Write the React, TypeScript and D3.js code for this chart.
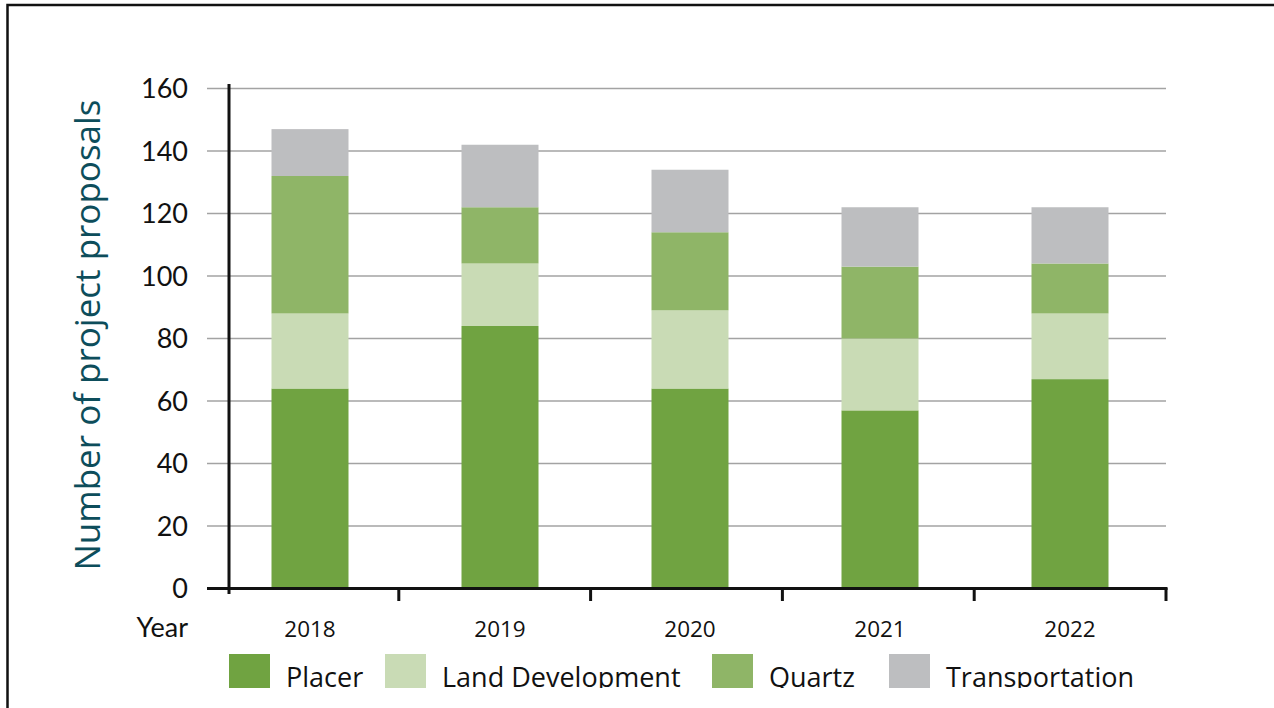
import React from "react";
import * as d3 from "d3";

const years = ["2018", "2019", "2020", "2021", "2022"];
const placer = [64, 84, 64, 57, 67];
const landDevelopment = [24, 20, 25, 23, 21];
const quartz = [44, 18, 25, 23, 16];
const transportation = [15, 20, 20, 19, 18];
const seriesNames = ["Placer", "Land Development", "Quartz", "Transportation"];
const seriesColors = ["#70A341", "#C9DBB5", "#8FB567", "#BDBEC0"];
const yTicks = [0, 20, 40, 60, 80, 100, 120, 140, 160];

const W = 1274;
const H = 708;
const FONT = "Lato, 'Open Sans', sans-serif";
const FONT2 = "'Open Sans', Lato, sans-serif";

export default function App() {
  const y = d3.scaleLinear().domain([0, 160]).range([588.5, 88.5]);
  const xAxis = d3.scaleBand<string>().domain(years).range([207, 1166]);
  const xBar = d3.scalePoint<string>().domain(years).range([215, 1165]).padding(0.5);
  const barW = 77;

  const rows = years.map((yr, i) => ({
    year: yr,
    Placer: placer[i],
    "Land Development": landDevelopment[i],
    Quartz: quartz[i],
    Transportation: transportation[i],
  }));
  const stacked = d3.stack<any>().keys(seriesNames)(rows);

  const legendX = [229, 385, 712, 889];

  return (
    <svg
      width={W}
      height={H}
      style={{ position: "absolute", left: 0, top: 0, background: "#fff" }}
      fontFamily={FONT}
    >
      <defs>
        <clipPath id="clip">
          <rect x={0} y={0} width={W} height={688} />
        </clipPath>
      </defs>
      <rect x={0} y={0} width={W} height={H} fill="#fff" />
      <rect x={7.5} y={5} width={1300} height={760} fill="none" stroke="#111" strokeWidth={2.5} />
      <g clipPath="url(#clip)">
        {yTicks.map((t) => (
          <g key={t}>
            <line x1={207} x2={1166} y1={y(t)} y2={y(t)} stroke="#a3a3a3" strokeWidth={1.5} />
            <text x={188} y={y(t)} dy="0.36em" textAnchor="end" fontSize={27} fill="#111">
              {t}
            </text>
          </g>
        ))}
        {stacked.map((s, si) =>
          s.map((d, i) => (
            <rect
              key={si + "-" + i}
              x={(xBar(years[i]) as number) - barW / 2}
              y={y(d[1])}
              width={barW}
              height={y(d[0]) - y(d[1])}
              fill={seriesColors[si]}
            />
          ))
        )}
        <line x1={207} x2={1167.5} y1={588.5} y2={588.5} stroke="#111" strokeWidth={3} />
        <line x1={229} x2={229} y1={84} y2={594} stroke="#111" strokeWidth={3} />
        {years.map((yr) => (
          <line
            key={yr}
            x1={(xAxis(yr) as number) + xAxis.bandwidth()}
            x2={(xAxis(yr) as number) + xAxis.bandwidth()}
            y1={588}
            y2={601}
            stroke="#111"
            strokeWidth={3}
          />
        ))}
        {years.map((yr) => (
          <text key={yr} x={xBar(yr)} y={637} textAnchor="middle" fontSize={22.5} fill="#111" fontFamily={FONT2}>
            {yr}
          </text>
        ))}
        <text x={188} y={637} textAnchor="end" fontSize={27} fill="#111">
          Year
        </text>
        <text
          transform={`translate(100,335) rotate(-90)`}
          textAnchor="middle"
          fontSize={35}
          fill="#0D4D5B"
          fontFamily={FONT2}
        >
          Number of project proposals
        </text>
        {seriesNames.map((n, i) => (
          <g key={n}>
            <rect x={legendX[i]} y={654} width={41} height={40} fill={seriesColors[i]} />
            <text x={legendX[i] + 57} y={687} fontSize={27} fill="#111" fontFamily={FONT2}>
              {n}
            </text>
          </g>
        ))}
      </g>
    </svg>
  );
}
